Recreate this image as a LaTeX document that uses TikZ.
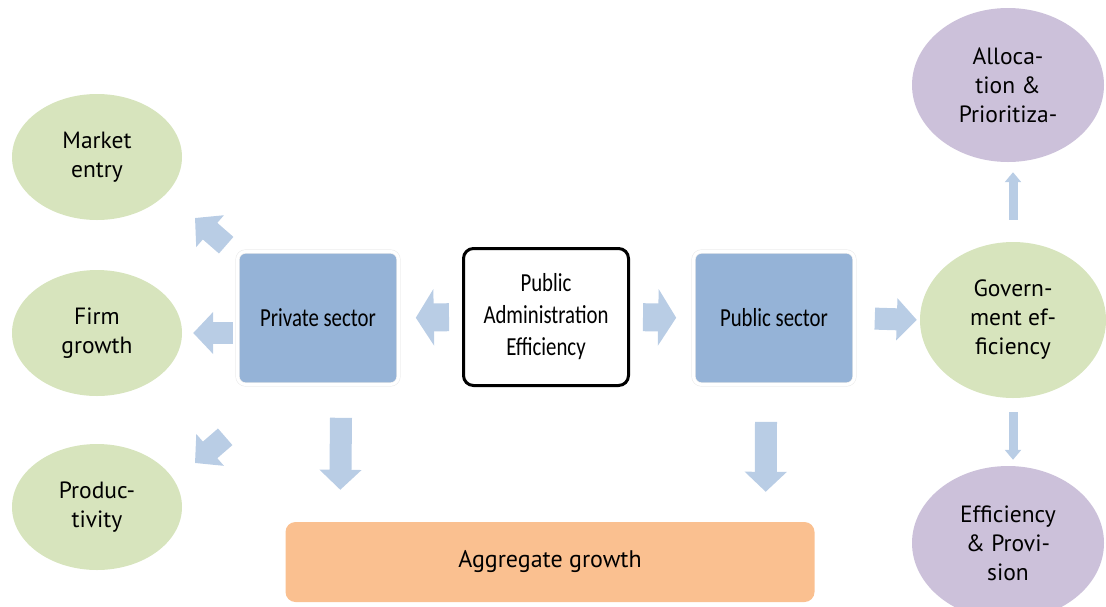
\documentclass[tikz,border=0pt]{standalone}
\usepackage{fontspec}
\setmainfont{PT Sans}
\newfontfamily\boxfont[FakeStretch=0.8]{Carlito}
\usetikzlibrary{shapes.geometric,arrows.meta}
\definecolor{ellgreen}{HTML}{D7E4BD}
\definecolor{ellpurple}{HTML}{CCC1DA}
\definecolor{secblue}{HTML}{95B3D7}
\definecolor{arrblue}{HTML}{B9CDE5}
\definecolor{aggorange}{HTML}{FAC090}

\begin{document}
\begin{tikzpicture}[x=1pt,y=-1pt,
  ell/.style={ellipse,inner sep=0,align=center,font=\fontsize{23.5}{29}\selectfont},
  greenell/.style={ell,fill=ellgreen,minimum width=170,minimum height=126},
  purpleell/.style={ell,fill=ellpurple,minimum width=192,minimum height=154},
  secbox/.style={rectangle,rounded corners=8pt,fill=secblue,draw=gray!15,double=white,
    double distance=3pt,line width=0.6pt,minimum width=161,minimum height=133,
    font=\boxfont\fontsize{26}{32}\selectfont},
  fatarrow/.style={draw=arrblue,line width=22pt,-{Triangle[length=20pt,width=41pt]}},
  paearrow/.style={draw=arrblue,line width=28pt,-{Triangle[length=18pt,width=56pt]}},
  thinarrow/.style={draw=arrblue,line width=9pt,-{Triangle[length=10pt,width=16pt]}}]
\useasboundingbox (0,0) rectangle (1106,606);
\clip (0,0) rectangle (1106,606);

% left column
\node[greenell] (entry) at (97,157) {Market\\entry};
\node[greenell] (firm) at (97,333) {Firm\\growth};
\node[greenell] (prod) at (97,507) {Produc-\\tivity};

% middle row
\node[secbox] (priv) at (318,318) {Private sector};
\node[draw=black,line width=3pt,rounded corners=10pt,fill=white,minimum width=165,
  minimum height=137,align=center,font=\boxfont\fontsize{26}{32}\selectfont]
  (pae) at (546,317) {Public\\Administration\\Efficiency};
\node[secbox] (pub) at (774,318) {Public sector};
\node[rectangle,rounded corners=10pt,fill=aggorange,minimum width=529,minimum height=80,
  font=\fontsize{24}{28}\selectfont] (agg) at (550,562) {Aggregate growth};

% right column
\node[purpleell] (alloc) at (1008,85) {Alloca-\\tion \&\\Prioritiza-};
\node[greenell,minimum width=186,minimum height=156] (gov) at (1013,320) {Govern-\\ment ef-\\ficiency};
\node[purpleell] (prov) at (1008,543) {Efficiency\\\& Provi-\\sion};

% arrows
\draw[paearrow,shorten <=13pt,shorten >=17pt] (pae.west) -- (priv.east);
\draw[paearrow,shorten <=13pt,shorten >=17pt] (pae.east) -- (pub.west);
\draw[fatarrow,shorten <=20pt,shorten >=3pt] (pub.east) -- (gov.west);
\draw[fatarrow,shorten <=4pt,shorten >=11pt] (priv.west |- firm.east) -- (firm.east);
\draw[fatarrow] ([shift={(-11,-6)}]priv.north west) -- ([shift={(98,61)}]entry.center);
\draw[fatarrow] ([shift={(-12,52)}]priv.south west) -- ([shift={(98,-44)}]prod.center);
\draw[fatarrow] ([shift={(23,33)}]priv.south) -- ([shift={(55,-32)}]agg.north west);
\draw[fatarrow] ([shift={(-8,37)}]pub.south) -- ([shift={(-49,-30)}]agg.north east);
\draw[thinarrow,shorten <=22pt,shorten >=10pt] (gov.north) -- (gov.north |- alloc.south);
\draw[thinarrow,shorten <=14pt,shorten >=6pt] (gov.south) -- (gov.south |- prov.north);
\end{tikzpicture}
\end{document}
